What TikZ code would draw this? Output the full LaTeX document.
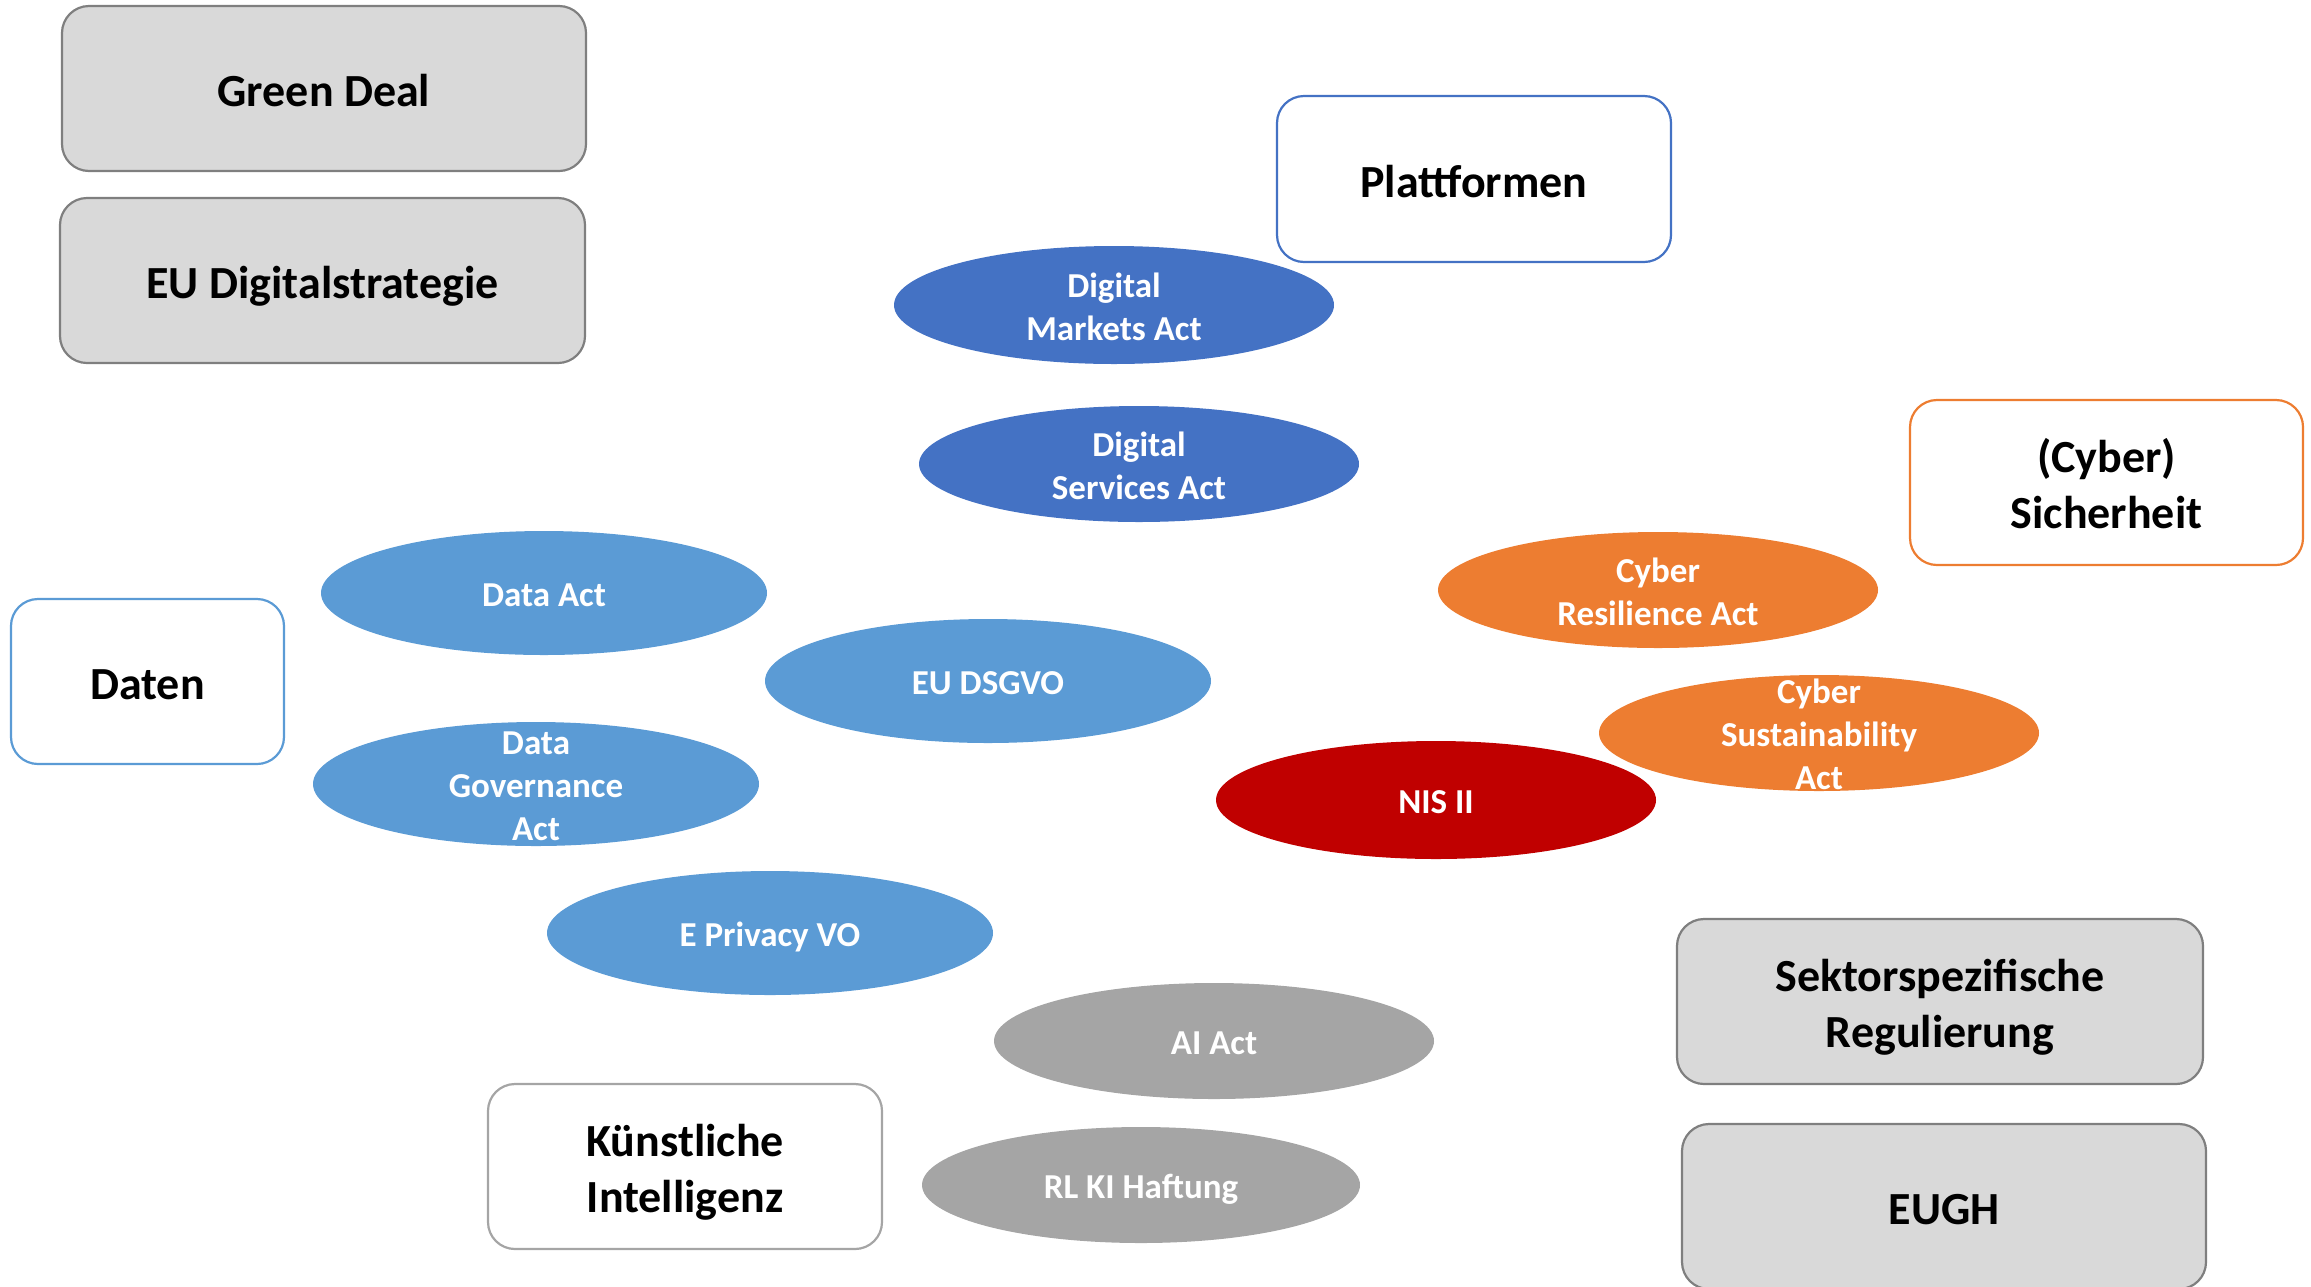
\documentclass[tikz,border=0pt]{standalone}
\usepackage{fontspec}
\setmainfont{Carlito}
\usetikzlibrary{shapes.geometric}
\definecolor{boxgray}{HTML}{D9D9D9}
\definecolor{boxline}{HTML}{7F7F7F}
\definecolor{dblue}{HTML}{4472C4}
\definecolor{lblue}{HTML}{5B9BD5}
\definecolor{orng}{HTML}{ED7D31}
\definecolor{dred}{HTML}{C00000}
\definecolor{mgray}{HTML}{A5A5A5}
\newcommand\bs{\rule[-5pt]{0pt}{28pt}}
\newcommand\es{\rule[-3.9pt]{0pt}{21.5pt}}
\tikzset{
  topicbox/.style={draw=#1, line width=1.1pt, rounded corners=13.5pt, inner sep=0pt,
    font=\fontsize{23}{28}\selectfont\bfseries, align=center, text=black},
  graybox/.style={topicbox=boxline, fill=boxgray},
  whitebox/.style={topicbox=#1, fill=white},
  actell/.style={ellipse, fill=#1, draw=none, inner sep=0pt},
  acttext/.style={font=\fontsize{17.5}{21.5}\selectfont\bfseries, text=white, align=center, inner sep=0pt}
}
\begin{document}
\begin{tikzpicture}[x=0.5pt,y=-0.5pt]
\useasboundingbox (0,0) rectangle (2311,1286);
% boxes
\node[graybox, minimum width=262pt, minimum height=82.5pt] (green) at (324,88.5) {\bs Green Deal};
\node[graybox, minimum width=262.5pt, minimum height=82.5pt] (digi) at (322.5,280.5) {\bs EU Digitalstrategie};
\node[whitebox=dblue, minimum width=197pt, minimum height=83pt] (platt) at (1474,179) {\bs Plattformen};
\node[whitebox=orng, minimum width=196.5pt, minimum height=82.5pt] (cyber) at (2106.5,482.5) {\bs(Cyber)\\\bs Sicherheit};
\node[whitebox=lblue, minimum width=136.5pt, minimum height=82.5pt] (daten) at (147.5,681.5) {\bs Daten};
\node[whitebox=mgray, minimum width=197pt, minimum height=82.5pt] (ki) at (685,1166.5) {\bs Künstliche\\\bs Intelligenz};
\node[graybox, minimum width=263pt, minimum height=82.5pt] (sektor) at (1940,1001.5) {\bs Sektorspezifische\\\bs Regulierung};
\node[graybox, minimum width=262pt, minimum height=82.5pt] (eugh) at (1944,1206.5) {\bs EUGH};
% ellipses
\node[actell=dblue, minimum width=220pt, minimum height=59pt] (dma) at (1114,305) {};
\node[acttext] (dmat) at (dma.center) {\es Digital\\\es Markets Act};
\node[actell=dblue, minimum width=220pt, minimum height=58pt] (dsa) at (1139,464) {};
\node[acttext] (dsat) at (dsa.center) {\es Digital\\\es Services Act};
\node[actell=lblue, minimum width=223pt, minimum height=62pt] (dataact) at (544,593) {};
\node[acttext] (dataactt) at (dataact.center) {\es Data Act};
\node[actell=lblue, minimum width=223pt, minimum height=62pt] (dga) at (536,784) {};
\node[acttext] (dgat) at (dga.center) {\es Data\\\es Governance\\\es Act};
\node[actell=lblue, minimum width=223pt, minimum height=62pt] (dsgvo) at (988,681) {};
\node[acttext] (dsgvot) at (dsgvo.center) {\es EU DSGVO};
\node[actell=lblue, minimum width=223pt, minimum height=62pt] (epriv) at (770,933) {};
\node[acttext] (eprivt) at (epriv.center) {\es E Privacy VO};
\node[actell=mgray, minimum width=220pt, minimum height=58pt] (aiact) at (1214,1041) {};
\node[acttext] (aiactt) at (aiact.center) {\es AI Act};
\node[actell=mgray, minimum width=219pt, minimum height=58pt] (rlki) at (1141,1185) {};
\node[acttext] (rlkit) at (rlki.center) {\es RL KI Haftung};
\node[actell=orng, minimum width=220pt, minimum height=58pt] (cra) at (1658,590) {};
\node[acttext] (crat) at (cra.center) {\es Cyber\\\es Resilience Act};
\node[actell=orng, minimum width=220pt, minimum height=58pt] (csa) at (1819,733) {};
\node[acttext] (csat) at (csa.center) {\es Cyber\\\es Sustainability\\\es Act};
\node[actell=dred, minimum width=220pt, minimum height=59pt] (nis) at (1436,800) {};
\node[acttext] (nist) at (nis.center) {\es NIS II};
\end{tikzpicture}
\end{document}
